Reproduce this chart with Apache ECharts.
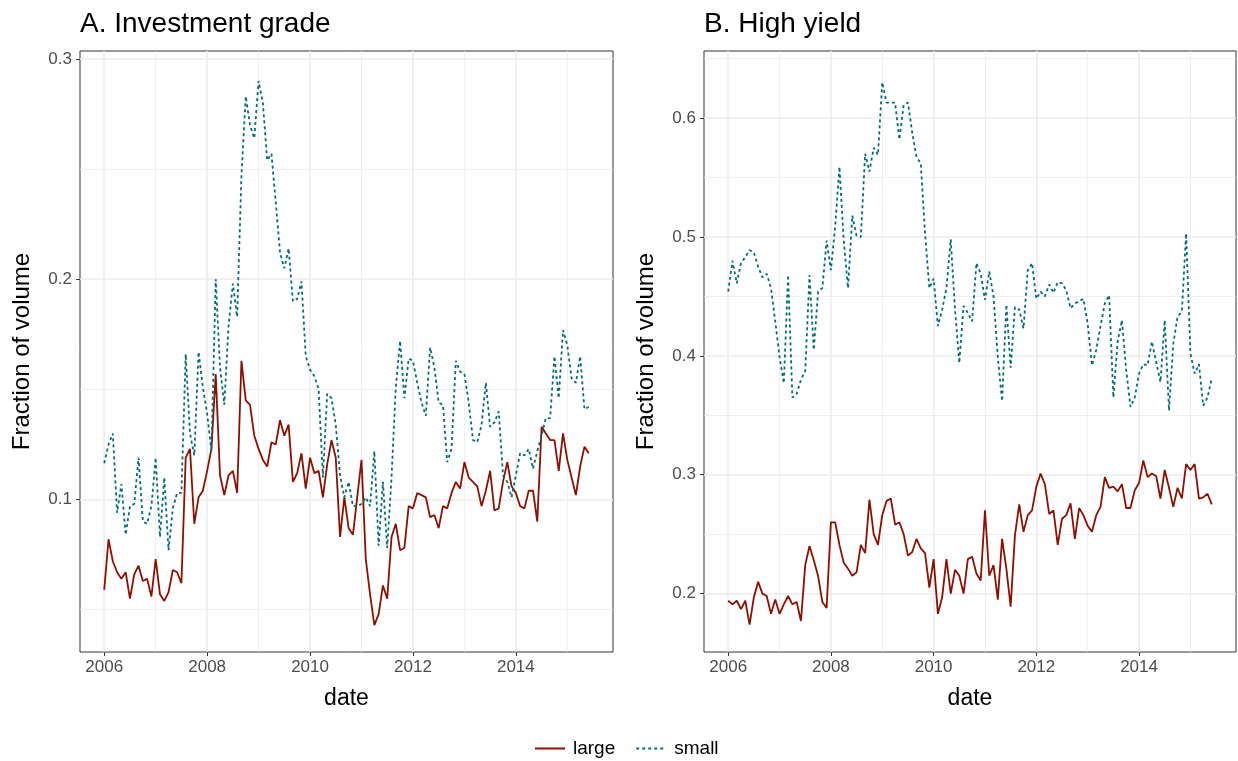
<!DOCTYPE html>
<html><head><meta charset="utf-8">
<script src="https://cdn.jsdelivr.net/npm/echarts@6/dist/echarts.min.js"></script>
<style>html,body{margin:0;padding:0;background:#fff}#c{width:1238px;height:761px}</style>
</head><body><div id="c"></div>
<script>
const startYear = 2006;
const seriesNames = ['large', 'small'];
const panelTitles = ['A. Investment grade', 'B. High yield'];

const igLarge = [0.059,0.082,0.072,0.067,0.064,0.067,0.055,0.066,0.070,0.063,0.064,0.056,
0.073,0.057,0.054,0.058,0.068,0.067,0.062,0.119,0.123,0.089,0.101,0.104,
0.113,0.123,0.157,0.111,0.102,0.111,0.113,0.103,0.163,0.145,0.143,0.129,
0.123,0.118,0.115,0.126,0.125,0.136,0.129,0.134,0.108,0.112,0.121,0.105,
0.119,0.112,0.113,0.101,0.116,0.127,0.119,0.083,0.101,0.087,0.084,0.101,
0.118,0.073,0.057,0.043,0.048,0.061,0.055,0.083,0.089,0.077,0.078,0.097,
0.096,0.103,0.102,0.101,0.092,0.093,0.087,0.097,0.096,0.103,0.108,0.105,
0.117,0.110,0.108,0.106,0.097,0.104,0.113,0.095,0.096,0.108,0.117,0.106,
0.103,0.097,0.096,0.104,0.104,0.090,0.133,0.130,0.127,0.127,0.113,0.130,
0.118,0.110,0.102,0.115,0.124,0.121];

const igSmall = [0.1165,0.125,0.130,0.094,0.107,0.084,0.097,0.098,0.119,0.090,0.089,0.097,
0.119,0.083,0.110,0.077,0.096,0.103,0.103,0.166,0.130,0.120,0.167,0.151,
0.139,0.122,0.200,0.160,0.143,0.179,0.198,0.183,0.247,0.283,0.270,0.264,
0.290,0.280,0.254,0.257,0.235,0.212,0.205,0.214,0.190,0.191,0.199,0.165,
0.159,0.156,0.150,0.110,0.148,0.146,0.134,0.111,0.101,0.108,0.097,0.097,
0.098,0.101,0.097,0.122,0.079,0.108,0.078,0.110,0.151,0.172,0.146,0.164,
0.163,0.153,0.144,0.138,0.169,0.160,0.144,0.143,0.117,0.123,0.163,0.158,
0.157,0.144,0.127,0.126,0.134,0.153,0.133,0.135,0.140,0.111,0.108,0.101,
0.111,0.121,0.120,0.123,0.114,0.122,0.129,0.137,0.137,0.165,0.146,0.177,
0.170,0.155,0.153,0.165,0.141,0.142];

const hyLarge = [0.194,0.191,0.194,0.187,0.194,0.174,0.197,0.210,0.200,0.198,0.183,0.195,
0.183,0.191,0.198,0.191,0.193,0.177,0.224,0.240,0.228,0.215,0.193,0.188,
0.260,0.260,0.241,0.226,0.221,0.215,0.218,0.241,0.234,0.279,0.250,0.241,
0.266,0.278,0.280,0.258,0.260,0.250,0.232,0.235,0.246,0.238,0.234,0.205,
0.229,0.183,0.197,0.229,0.200,0.220,0.215,0.200,0.229,0.231,0.217,0.211,
0.270,0.215,0.224,0.195,0.246,0.221,0.189,0.249,0.275,0.252,0.266,0.270,
0.290,0.301,0.292,0.267,0.270,0.241,0.263,0.266,0.276,0.246,0.272,0.266,
0.257,0.252,0.266,0.273,0.298,0.289,0.290,0.286,0.292,0.272,0.272,0.287,
0.293,0.312,0.298,0.301,0.299,0.280,0.304,0.289,0.273,0.289,0.280,0.309,
0.304,0.309,0.280,0.281,0.284,0.275];

const hySmall = [0.454,0.480,0.461,0.478,0.483,0.489,0.487,0.475,0.466,0.469,0.457,0.429,
0.399,0.377,0.468,0.365,0.368,0.380,0.387,0.468,0.405,0.454,0.457,0.497,
0.472,0.509,0.559,0.497,0.457,0.518,0.501,0.500,0.570,0.555,0.575,0.569,
0.630,0.613,0.613,0.613,0.582,0.611,0.613,0.588,0.567,0.562,0.503,0.457,
0.465,0.425,0.439,0.457,0.498,0.439,0.394,0.442,0.436,0.429,0.478,0.469,
0.447,0.471,0.450,0.399,0.362,0.443,0.390,0.441,0.439,0.423,0.472,0.478,
0.448,0.454,0.450,0.460,0.453,0.462,0.461,0.455,0.440,0.444,0.446,0.448,
0.427,0.392,0.405,0.425,0.444,0.451,0.365,0.412,0.430,0.388,0.357,0.365,
0.385,0.393,0.392,0.412,0.395,0.378,0.430,0.354,0.410,0.433,0.437,0.503,
0.402,0.385,0.393,0.358,0.365,0.381];

const xTicks = [2006, 2008, 2010, 2012, 2014];
const xMinor = [2007, 2009, 2011, 2013, 2015];
const igTicks = [0.1, 0.2, 0.3];
const igMinor = [0.05, 0.15, 0.25];
const hyTicks = [0.2, 0.3, 0.4, 0.5, 0.6];
const hyMinor = [0.25, 0.35, 0.45, 0.55, 0.65];

const RED = '#8E0F00';
const TEAL = '#006E70';
const GRID = '#EBEBEB';
const FONT = 'Liberation Sans, Arial, Helvetica, sans-serif';

function pairs(vals) { return vals.map((v, i) => [startYear + i / 12, v]); }

const xRange = [2005.529, 2015.888];
const yRanges = [[0.0308, 0.3036], [0.1509, 0.6564]];
const yTickSets = [igTicks, hyTicks];
const yMinorSets = [igMinor, hyMinor];
const dataSets = [[igLarge, igSmall], [hyLarge, hySmall]];

const grids = [
  {left: 80, top: 51, width: 533, height: 601},
  {left: 704, top: 51, width: 532, height: 601}
];

const xAxes = [], yAxes = [], series = [], titles = [];
for (let p = 0; p < 2; p++) {
  titles.push({
    text: panelTitles[p], left: grids[p].left - 5, top: 5,
    textStyle: {fontFamily: FONT, fontSize: 28, fontWeight: 'normal', color: '#000'}
  });
  xAxes.push({
    type: 'value', gridIndex: p, min: xRange[0], max: xRange[1],
    name: 'date', nameLocation: 'middle', nameGap: 35,
    nameTextStyle: {fontFamily: FONT, fontSize: 23, color: '#000'},
    axisLine: {show: false},
    axisTick: {show: true, length: 4, customValues: xTicks, lineStyle: {color: '#333333', width: 1}},
    axisLabel: {customValues: xTicks, margin: 7, fontFamily: FONT, fontSize: 17, color: '#4D4D4D',
      formatter: v => String(Math.round(v))},
    splitLine: {show: false}
  });
  yAxes.push({
    type: 'value', gridIndex: p, min: yRanges[p][0], max: yRanges[p][1],
    name: 'Fraction of volume', nameLocation: 'middle', nameGap: 46,
    nameTextStyle: {fontFamily: FONT, fontSize: 24, color: '#000'},
    axisLine: {show: false},
    axisTick: {show: true, length: 4, customValues: yTickSets[p], lineStyle: {color: '#333333', width: 1}},
    axisLabel: {customValues: yTickSets[p], margin: 8, fontFamily: FONT, fontSize: 17, color: '#4D4D4D',
      formatter: v => String(Math.round(v * 10) / 10)},
    splitLine: {show: false}
  });
  const gl = [];
  xMinor.forEach(v => gl.push({xAxis: v, lineStyle: {color: GRID, width: 0.8, type: 'solid'}}));
  yMinorSets[p].forEach(v => gl.push({yAxis: v, lineStyle: {color: GRID, width: 0.8, type: 'solid'}}));
  xTicks.forEach(v => gl.push({xAxis: v, lineStyle: {color: GRID, width: 1.6, type: 'solid'}}));
  yTickSets[p].forEach(v => gl.push({yAxis: v, lineStyle: {color: GRID, width: 1.6, type: 'solid'}}));
  series.push({
    type: 'line', xAxisIndex: p, yAxisIndex: p, data: [], z: 1, silent: true,
    markLine: {z: 1, silent: true, symbol: 'none', animation: false, label: {show: false}, data: gl}
  });
  series.push({
    name: seriesNames[0], type: 'line', xAxisIndex: p, yAxisIndex: p, z: 4,
    data: pairs(dataSets[p][0]), showSymbol: false, symbol: 'none', animation: false,
    lineStyle: {color: RED, width: 1.8, type: 'solid'}, itemStyle: {color: RED}
  });
  series.push({
    name: seriesNames[1], type: 'line', xAxisIndex: p, yAxisIndex: p, z: 4,
    data: pairs(dataSets[p][1]), showSymbol: false, symbol: 'none', animation: false,
    lineStyle: {color: TEAL, width: 1.8, type: [3, 3]}, itemStyle: {color: TEAL}
  });
}

const grid = grids.map(g => Object.assign({show: true, borderColor: '#333333', borderWidth: 1, backgroundColor: 'transparent', containLabel: false, z: 0}, g));

const chart = echarts.init(document.getElementById('c'), null, {renderer: 'canvas'});
chart.setOption({
  backgroundColor: '#ffffff',
  animation: false,
  title: titles,
  grid: grid,
  xAxis: xAxes,
  yAxis: yAxes,
  legend: {
    data: seriesNames, top: 734, left: 529, itemWidth: 30, itemHeight: 14, itemGap: 20,
    itemStyle: {color: 'rgba(0,0,0,0)', borderColor: 'rgba(0,0,0,0)', borderWidth: 0, opacity: 0},
    textStyle: {fontFamily: FONT, fontSize: 19, color: '#000', padding: [0, 0, 0, 3]}
  },
  series: series
});
</script></body></html>
